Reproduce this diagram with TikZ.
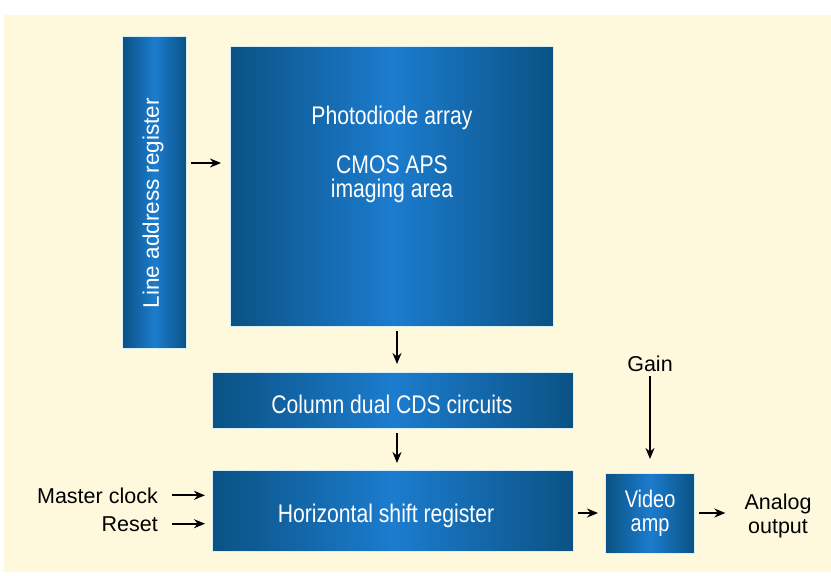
\documentclass[tikz,border=0pt]{standalone}
\usepackage{fontspec}
\setmainfont{Liberation Sans}
\newfontfamily\cond[FakeStretch=0.83]{Liberation Sans}
\usetikzlibrary{arrows.meta}

\definecolor{paper}{RGB}{254,249,221}
\definecolor{boxdark}{RGB}{10,82,132}
\definecolor{boxlight}{RGB}{28,124,206}
\definecolor{rim}{RGB}{214,238,244}

\tikzset{
  block/.style={draw=rim, line width=1.2pt, left color=boxdark, right color=boxdark,
    middle color=boxlight, inner sep=0pt, anchor=north west},
  wtext/.style={text=white, inner sep=0pt, font=\cond\fontsize{25.5}{24}\selectfont},
  ktext/.style={text=black, inner sep=0pt, font=\fontsize{21.5}{23.5}\selectfont},
  arr/.style={-{Stealth[length=11pt,width=9pt]}, line width=2.2pt, black},
}

\begin{document}
\begin{tikzpicture}[x=1pt,y=-1pt]
  \useasboundingbox (0,0) rectangle (831,576);
  \fill[white] (0,0) rectangle (831,576);
  \fill[paper] (4,15) rectangle (831,572);

  % blocks
  \node[block, minimum width=64, minimum height=312] (lar) at (122,36) {};
  \node[block, minimum width=323, minimum height=280] (photo) at (230,46) {};
  \node[block, minimum width=361, minimum height=56] (cds) at (212,372) {};
  \node[block, minimum width=361, minimum height=81] (hsr) at (212,470) {};
  \node[block, minimum width=89, minimum height=80, align=center,
        text=white, font=\cond\fontsize{24}{24}\selectfont] (amp) at (605,473)
        {Video\\amp};

  % block texts
  \node[text=white, inner sep=0pt, rotate=90, font=\fontsize{22.5}{22}\selectfont]
    (lartext) at (153,203) {Line address register};
  \node[wtext, anchor=base] (pd) at (392,124) {Photodiode array};
  \node[wtext, anchor=base] (cmos) at (392,173) {CMOS APS};
  \node[wtext, anchor=base] (img) at (392,197) {imaging area};
  \node[wtext, anchor=base] (cdstext) at (392,413) {Column dual CDS circuits};
  \node[wtext, anchor=base] (hsrtext) at (386,522) {Horizontal shift register};

  % outside labels
  \node[ktext, anchor=base east] (mclk) at (158,503) {Master clock};
  \node[ktext, anchor=base east] (rst) at (158,531) {Reset};
  \node[ktext, anchor=base] (gain) at (650,371) {Gain};
  \node[ktext, align=center] (out) at (778,516) {Analog\\output};

  % signal rows / columns
  \coordinate (row1) at (0,163);
  \coordinate (col1) at (397,0);
  \coordinate (row2) at (0,513);

  % connectors
  \draw[arr, shorten <=4pt, shorten >=9pt] (lar.east |- row1) -- (photo.west |- row1);
  \draw[arr, shorten <=4pt, shorten >=8pt] (photo.south -| col1) -- (cds.north -| col1);
  \draw[arr, shorten <=4pt, shorten >=7pt] (cds.south -| col1) -- (hsr.north -| col1);
  \draw[arr, shorten <=14pt, shorten >=7pt] (mclk.east) -- (mclk.east -| hsr.west);
  \draw[arr, shorten <=14pt, shorten >=7pt] (rst.east) -- (rst.east -| hsr.west);
  \draw[arr, shorten <=5pt, shorten >=14pt] (gain.south) -- (gain.south |- amp.north);
  \draw[arr, shorten <=4pt, shorten >=7pt] (hsr.east |- row2) -- (amp.west |- row2);
  \draw[arr, shorten <=4pt, shorten >=19pt] (amp.east |- row2) -- (out.west |- row2);
\end{tikzpicture}
\end{document}
